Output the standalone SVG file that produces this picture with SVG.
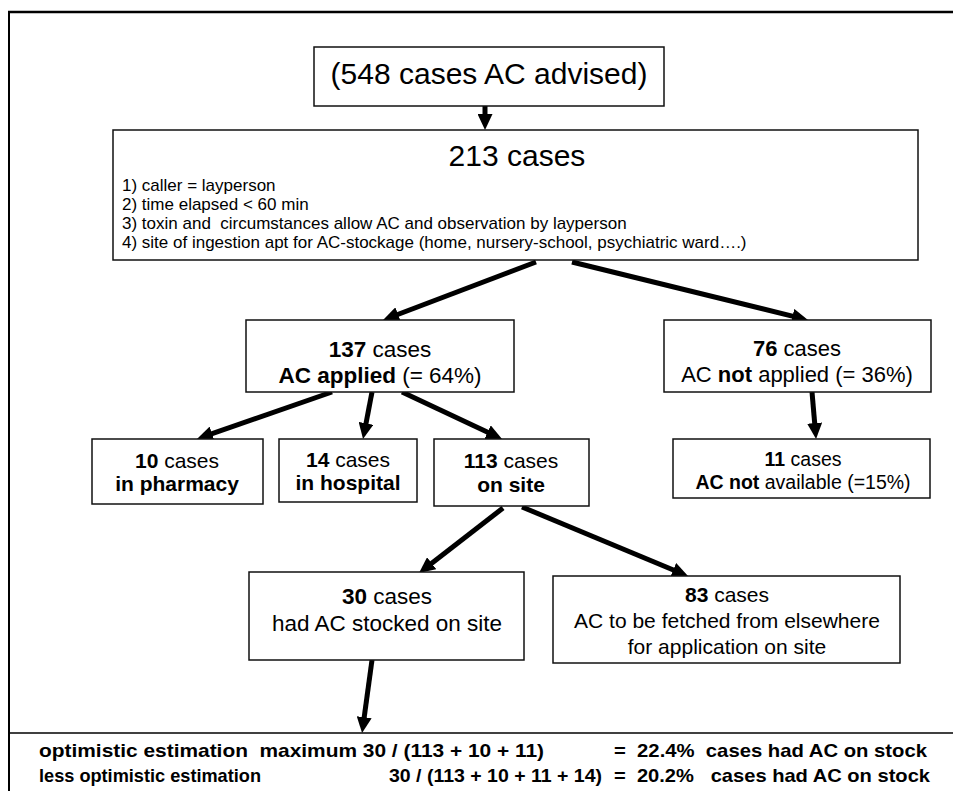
<svg xmlns="http://www.w3.org/2000/svg" width="953" height="791" viewBox="0 0 953 791">
<defs>
<style>
.box{fill:#fff;stroke:#111;stroke-width:1.5}
.t{font-family:"Liberation Sans",Arial,sans-serif;fill:#000;text-anchor:middle}
.l{font-family:"Liberation Sans",Arial,sans-serif;fill:#000;font-size:17px;white-space:pre}
.b{font-weight:bold}
.conn{stroke:#000;stroke-width:5;fill:none;marker-end:url(#ah)}
.bt{font-family:"Liberation Sans",Arial,sans-serif;font-weight:bold;font-size:18.5px;fill:#000;white-space:pre}
</style>
<marker id="ah" markerUnits="userSpaceOnUse" markerWidth="16" markerHeight="15" refX="6" refY="7.5" orient="auto">
<path d="M0,0 L16,7.5 L0,15 z" fill="#000"/>
</marker>
</defs>
<rect width="953" height="791" fill="#fff"/>
<g id="frame" stroke="#000" fill="none">
<line x1="8" y1="12" x2="953" y2="12" stroke-width="2.5"/>
<line x1="9" y1="11" x2="9" y2="791" stroke-width="2"/>
<line x1="9" y1="733" x2="953" y2="733" stroke-width="1.5"/>
</g>
<g id="connectors">
<line class="conn" x1="485" y1="106" x2="485" y2="120"/>
<line class="conn" x1="536" y1="262" x2="392.4" y2="316.5"/>
<line class="conn" x1="572" y1="262" x2="798.3" y2="317.6"/>
<line class="conn" x1="332" y1="392" x2="206.4" y2="435.7"/>
<line class="conn" x1="372" y1="392" x2="364.9" y2="429.2"/>
<line class="conn" x1="402" y1="392" x2="493" y2="434.7"/>
<line class="conn" x1="812" y1="392" x2="815.2" y2="429"/>
<line class="conn" x1="503" y1="508" x2="426.9" y2="566.9"/>
<line class="conn" x1="522" y1="507" x2="678.8" y2="572.2"/>
<line class="conn" x1="372" y1="660" x2="363.4" y2="723.1"/>
</g>
<g id="n548">
<rect class="box" x="314" y="47" width="350" height="59"/>
<text class="t" x="489" y="84" font-size="30">(548 cases AC advised)</text>
</g>
<g id="n213">
<rect class="box" x="113" y="130" width="805" height="130"/>
<text class="t" x="517" y="166" font-size="30">213 cases</text>
<text class="l" x="122" y="191">1) caller = layperson</text>
<text class="l" x="122" y="210">2) time elapsed &lt; 60 min</text>
<text class="l" x="122" y="229">3) toxin and  circumstances allow AC and observation by layperson</text>
<text class="l" x="122" y="248">4) site of ingestion apt for AC-stockage (home, nursery-school, psychiatric ward….)</text>
</g>
<g id="n137">
<rect class="box" x="246" y="320" width="268" height="72"/>
<text class="t" x="380" y="357" font-size="22.5"><tspan class="b">137</tspan> cases</text>
<text class="t" x="380" y="383" font-size="22.5"><tspan class="b">AC applied</tspan> (= 64%)</text>
</g>
<g id="n76">
<rect class="box" x="664" y="320" width="267" height="72"/>
<text class="t" x="797" y="356" font-size="22"><tspan class="b">76</tspan> cases</text>
<text class="t" x="797" y="382" font-size="22">AC <tspan class="b">not</tspan> applied (= 36%)</text>
</g>
<g id="n10">
<rect class="box" x="92" y="439" width="171" height="65"/>
<text class="t" x="177" y="468" font-size="21"><tspan class="b">10</tspan> cases</text>
<text class="t b" x="177" y="491" font-size="21">in pharmacy</text>
</g>
<g id="n14">
<rect class="box" x="279" y="439" width="138" height="63"/>
<text class="t" x="348" y="467" font-size="21"><tspan class="b">14</tspan> cases</text>
<text class="t b" x="348" y="490" font-size="21">in hospital</text>
</g>
<g id="n113">
<rect class="box" x="434" y="439" width="155" height="67"/>
<text class="t" x="511" y="468" font-size="21"><tspan class="b">113</tspan> cases</text>
<text class="t b" x="511" y="492" font-size="21">on site</text>
</g>
<g id="n11">
<rect class="box" x="673" y="439" width="257" height="59"/>
<text class="t" x="803" y="466" font-size="19.5"><tspan class="b">11</tspan> cases</text>
<text class="t" x="803" y="489" font-size="19.5"><tspan class="b">AC not</tspan> available (=15%)</text>
</g>
<g id="n30">
<rect class="box" x="249" y="572" width="275" height="88"/>
<text class="t" x="387" y="604" font-size="22.5"><tspan class="b">30</tspan> cases</text>
<text class="t" x="387" y="631" font-size="22.5">had AC stocked on site</text>
</g>
<g id="n83">
<rect class="box" x="553" y="576" width="347" height="87"/>
<text class="t" x="727" y="602" font-size="21"><tspan class="b">83</tspan> cases</text>
<text class="t" x="727" y="628" font-size="21">AC to be fetched from elsewhere</text>
<text class="t" x="727" y="654" font-size="21">for application on site</text>
</g>
<g id="estimates">
<text class="bt" x="39" y="757" textLength="505" lengthAdjust="spacingAndGlyphs">optimistic estimation  maximum 30 / (113 + 10 + 11)</text>
<text class="bt" x="614" y="757" textLength="313" lengthAdjust="spacingAndGlyphs">=  22.4%  cases had AC on stock</text>
<text class="bt" x="39" y="782" textLength="222" lengthAdjust="spacingAndGlyphs">less optimistic estimation</text>
<text class="bt" x="389" y="782" textLength="213" lengthAdjust="spacingAndGlyphs">30 / (113 + 10 + 11 + 14)</text>
<text class="bt" x="614" y="782" textLength="316" lengthAdjust="spacingAndGlyphs">=  20.2%   cases had AC on stock</text>
</g>
</svg>
